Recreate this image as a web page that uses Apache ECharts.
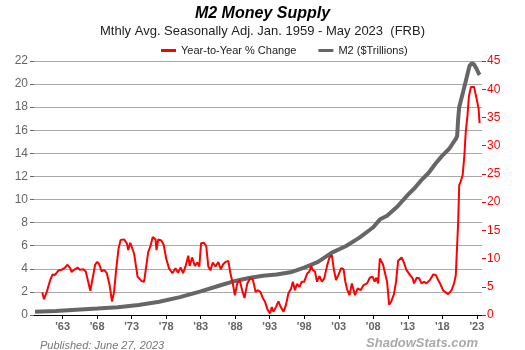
<!DOCTYPE html>
<html>
<head>
<meta charset="utf-8">
<script src="https://cdn.jsdelivr.net/npm/echarts@6/dist/echarts.min.js"></script>
<style>
  html, body { margin: 0; padding: 0; background: #fff; }
  #chart { width: 525px; height: 350px; }
</style>
</head>
<body>
<div id="chart"></div>
<script>
// year-to-year % change (right axis)
var yoyYears = [
  1960.05,1960.3,1960.7,1961.2,1961.55,1961.9,1962.4,1962.85,1963.35,1963.7,
  1964.1,1964.3,1964.65,1965.2,1965.5,1966.0,1966.35,1966.7,1967.0,1967.35,
  1967.7,1968.0,1968.3,1968.65,1969.0,1969.4,1969.8,1970.15,1970.45,1970.75,
  1971.1,1971.4,1971.9,1972.3,1972.5,1972.8,1973.05,1973.35,1973.6,1973.85,
  1974.1,1974.45,1974.8,1975.0,1975.4,1975.7,1976.05,1976.45,1976.6,1976.85,
  1977.3,1977.65,1978.0,1978.4,1978.9,1979.35,1979.7,1980.1,1980.45,1980.8,
  1981.2,1981.4,1981.75,1982.15,1982.5,1982.8,1983.05,1983.45,1983.8,1984.1,
  1984.4,1984.75,1985.15,1985.55,1985.9,1986.25,1986.6,1987.0,1987.3,1987.65,
  1987.95,1988.3,1988.65,1989.0,1989.35,1989.75,1990.2,1990.55,1990.95,1991.25,
  1991.65,1992.0,1992.3,1992.7,1993.05,1993.3,1993.55,1993.9,1994.25,1994.6,
  1995.0,1995.35,1995.7,1996.1,1996.35,1996.65,1996.95,1997.3,1997.65,1998.0,
  1998.4,1998.75,1999.0,1999.2,1999.55,1999.85,2000.2,2000.55,2000.9,2001.3,
  2001.65,2002.0,2002.3,2002.6,2002.95,2003.35,2003.7,2003.95,2004.2,2004.55,
  2004.9,2005.1,2005.35,2005.75,2006.15,2006.6,2007.1,2007.5,2007.9,2008.2,
  2008.45,2008.7,2008.95,2009.2,2009.4,2009.65,2010.0,2010.3,2010.6,2011.0,
  2011.3,2011.6,2012.1,2012.4,2012.8,2013.05,2013.3,2013.7,2013.9,2014.3,
  2014.65,2015.0,2015.35,2015.7,2016.2,2016.7,2017.05,2017.4,2017.75,2018.1,
  2018.5,2018.85,2019.1,2019.35,2019.7,2019.95,2020.2,2020.3,2020.45,2020.65,
  2020.95,2021.2,2021.4,2021.65,2021.85,2022.15,2022.6,2022.85,2023.05,2023.25,2023.4
];
var yoyValues = [
  4.0,2.8,4.1,6.2,7.2,7.1,7.9,8.0,8.4,8.9,
  8.3,7.6,8.0,8.4,8.0,8.1,7.7,5.9,4.3,6.5,
  8.9,9.4,9.0,7.7,8.0,7.4,5.3,2.4,4.1,8.0,
  11.8,13.3,13.4,12.7,11.5,12.8,13.0,10.9,10.9,6.8,
  6.5,6.0,5.9,5.6,11.2,12.1,13.8,13.4,11.5,13.4,
  13.2,12.4,10.0,8.3,7.4,8.3,7.5,8.4,7.4,8.6,
  10.5,8.7,10.2,8.7,9.3,8.6,12.7,12.8,12.2,8.6,
  7.9,9.3,8.6,9.4,8.1,9.0,9.4,9.6,7.4,5.6,
  3.5,5.6,6.2,4.4,3.0,5.6,6.5,6.3,4.1,4.4,
  4.1,3.0,2.4,0.9,0.3,1.4,0.6,1.4,2.4,1.4,
  0.6,1.8,3.8,4.7,5.9,4.4,5.5,5.0,5.9,5.9,
  7.3,7.7,8.7,8.0,7.7,5.9,6.9,5.9,6.5,8.7,
  10.2,10.6,8.0,6.2,7.1,8.3,8.1,5.9,4.6,3.5,
  5.6,5.9,3.5,4.7,4.4,5.3,5.6,6.6,6.8,5.9,
  6.6,5.6,10.0,10.2,9.0,8.9,5.9,1.8,2.4,3.7,
  5.9,9.6,10.2,9.4,8.0,8.3,7.1,6.5,5.6,6.6,
  6.5,5.6,5.9,5.6,6.2,7.2,7.1,6.2,5.4,4.4,
  4.0,3.7,4.0,4.4,5.6,7.0,7.1,16.5,23.0,23.6,
  24.8,28.3,32.5,35.4,38.7,40.4,40.4,39.0,37.8,36.6,34.0
];

// M2 level in $ trillions (left axis)
var m2Years = [
  1959.0,1962,1965,1968,1971,1974,1977,1980,1983,1986,
  1988,1990,1992,1994,1996,1998,2000,2002,2004,2006,
  2008,2009,2010,2011.5,2013,2014,2015,2016,2017,2018,
  2019,2020.0,2020.15,2020.3,2020.45,2020.7,2021.0,2021.5,2021.95,2022.3,
  2022.6,2022.9,2023.2,2023.4
];
var m2Values = [
  0.29,0.35,0.46,0.56,0.68,0.87,1.15,1.55,2.05,2.6,
  2.95,3.2,3.4,3.5,3.7,4.1,4.6,5.4,5.95,6.7,
  7.6,8.3,8.6,9.4,10.4,11.0,11.7,12.3,13.1,13.8,
  14.4,15.3,15.5,17.0,18.0,18.6,19.3,20.5,21.6,21.8,
  21.7,21.4,21.0,20.8
];

var yearTicks = [1963,1968,1973,1978,1983,1988,1993,1998,2003,2008,2013,2018,2023];

function zip(xs, ys) {
  return xs.map(function (x, i) { return [x, ys[i]]; });
}

var font = 'Liberation Sans, Arial, sans-serif';
var chart = echarts.init(document.getElementById('chart'));

chart.setOption({
  animation: false,
  textStyle: { fontFamily: font },
  title: [
    {
      text: 'M2 Money Supply',
      subtext: 'Mthly Avg. Seasonally Adj. Jan. 1959 - May 2023  (FRB)',
      left: 'center',
      top: 1,
      itemGap: 3,
      textStyle: { fontSize: 16, fontWeight: 'bold', fontStyle: 'italic', color: '#000', fontFamily: font },
      subtextStyle: { fontSize: 13, color: '#222', fontFamily: font }
    },
    {
      text: 'Published: June 27, 2023',
      left: 35,
      top: 335,
      textStyle: { fontSize: 11, fontWeight: 'normal', fontStyle: 'italic', color: '#777', fontFamily: font }
    },
    {
      text: 'ShadowStats.com',
      right: 42,
      top: 332,
      textStyle: { fontSize: 13, fontWeight: 'bold', fontStyle: 'italic', color: '#aaa', fontFamily: font }
    }
  ],
  legend: {
    top: 40,
    left: 156,
    itemGap: 22,
    itemWidth: 15,
    itemHeight: 3,
    icon: 'rect',
    textStyle: { fontSize: 11, color: '#222' },
    data: ['Year-to-Year % Change', 'M2 ($Trillions)']
  },
  grid: { left: 34, right: 43, top: 61, bottom: 35, containLabel: false },
  xAxis: {
    type: 'value',
    min: 1958.85,
    max: 2023.75,
    splitLine: { show: false },
    axisLine: { lineStyle: { color: '#000', width: 1 } },
    axisTick: { customValues: yearTicks, length: 4, lineStyle: { color: '#000' } },
    axisLabel: {
      customValues: yearTicks,
      color: '#666',
      fontWeight: 'bold',
      fontSize: 11,
      margin: 6,
      formatter: function (v) { return "'" + String(Math.round(v)).slice(2); }
    }
  },
  yAxis: [
    {
      type: 'value',
      min: 0,
      max: 22,
      interval: 2,
      axisLine: { show: false },
      axisTick: { show: true, length: 4, lineStyle: { color: '#666' } },
      axisLabel: { color: '#666', fontSize: 12, margin: 6 },
      splitLine: { lineStyle: { color: '#aaa', width: 1 } }
    },
    {
      type: 'value',
      min: 0,
      max: 45,
      interval: 5,
      position: 'right',
      axisLine: { show: false },
      axisTick: { show: true, length: 4, lineStyle: { color: '#f00' } },
      axisLabel: { color: '#f00', fontSize: 12, margin: 5 },
      splitLine: { show: false }
    }
  ],
  series: [
    {
      name: 'M2 ($Trillions)',
      type: 'line',
      yAxisIndex: 0,
      showSymbol: false,
      data: zip(m2Years, m2Values),
      lineStyle: { color: '#666', width: 4 },
      itemStyle: { color: '#666' }
    },
    {
      name: 'Year-to-Year % Change',
      type: 'line',
      yAxisIndex: 1,
      showSymbol: false,
      data: zip(yoyYears, yoyValues),
      lineStyle: { color: '#f00', width: 2 },
      itemStyle: { color: '#f00' }
    }
  ]
});
</script>
</body>
</html>
